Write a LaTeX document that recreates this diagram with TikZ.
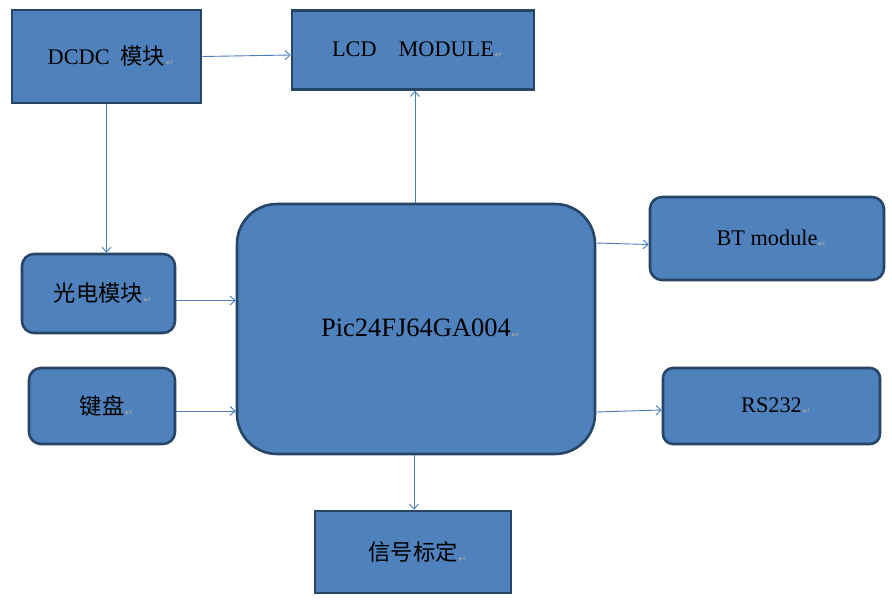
\documentclass[tikz,border=0pt]{standalone}
\usepackage{fontspec}
\setmainfont{Liberation Serif}
\newfontfamily\cjk{Noto Sans CJK SC}
\newfontfamily\symf{DejaVu Sans}
\usetikzlibrary{arrows.meta}
\definecolor{boxfill}{HTML}{4F81BD}
\definecolor{boxline}{HTML}{274567}
\definecolor{arrowc}{HTML}{4A7EBB}
\newcommand{\pmark}{\rlap{\hspace{0.5pt}\raisebox{-2pt}{\fontsize{10}{10}\selectfont\symf\color{gray!70}↵}}}
\begin{document}
\begin{tikzpicture}[x=1pt,y=-1pt,
  box/.style={draw=boxline,fill=boxfill,line width=2.6pt,inner sep=0pt,align=center,
    font=\fontsize{22.3}{25}\selectfont},
  rbox/.style={box,rounded corners=12pt},
  conn/.style={draw=arrowc,line width=0.9pt,-{Straight Barb[length=5pt,width=9pt]}}]
\useasboundingbox (0,0) rectangle (892,602);
\node[box,minimum width=189pt,minimum height=93pt] (dcdc) at (106.5,56.5) {DCDC\hspace{11pt}{\cjk 模块}\pmark};
\node[box,minimum width=242pt,minimum height=79pt] (lcd) at (413,50) {LCD\hspace{22pt}MODULE\pmark};
\node[rbox,minimum width=153pt,minimum height=79pt] (gd) at (98.5,293.5) {{\cjk 光电模块}\pmark};
\node[rbox,minimum width=146pt,minimum height=76pt] (kb) at (102,406) {{\cjk 键盘}\pmark};
\node[box,rounded corners=40pt,minimum width=358pt,minimum height=250pt,
  font=\fontsize{26.5}{30}\selectfont] (pic) at (416,329) {Pic24FJ64GA004\pmark};
\node[rbox,minimum width=234pt,minimum height=83pt] (bt) at (767,238.5) {BT module\pmark};
\node[rbox,rounded corners=10pt,minimum width=217pt,minimum height=76pt] (rs) at (771.5,406) {RS232\pmark};
\node[box,minimum width=196pt,minimum height=82pt] (xh) at (413,552) {{\cjk 信号标定}\pmark};

\draw[conn] (dcdc.east) -- ([yshift=-5pt]lcd.west);
\draw[conn] (dcdc.south) -- (dcdc.south |- gd.north);
\draw[conn] ([yshift=-7pt]gd.east) -- ([yshift=28.5pt]pic.west);
\draw[conn] ([yshift=-5pt]kb.east) -- ([yshift=-82pt]pic.west);
\draw[conn] ([xshift=-1pt]pic.north) -- ([xshift=-1pt]pic.north |- lcd.south);
\draw[conn] ([yshift=86pt]pic.east) -- ([yshift=-6pt]bt.west);
\draw[conn] ([yshift=-83pt]pic.east) -- ([yshift=-4pt]rs.west);
\draw[conn] ([xshift=-2pt]pic.south) -- ([xshift=-2pt]pic.south |- xh.north);
\end{tikzpicture}
\end{document}
